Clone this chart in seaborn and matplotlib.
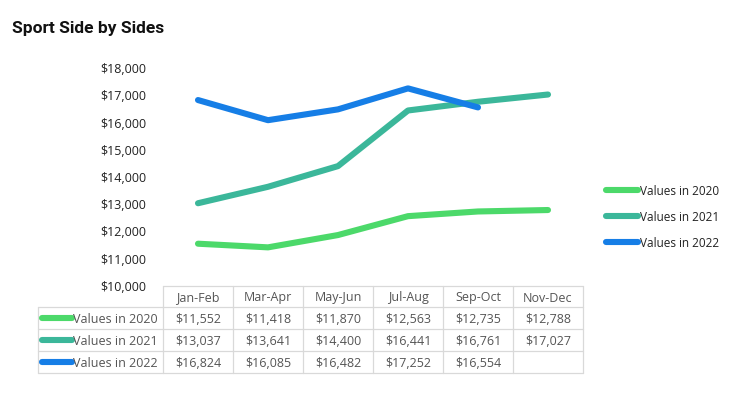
import matplotlib
matplotlib.use("Agg")
import matplotlib.pyplot as plt
import seaborn as sns
import pandas as pd
import numpy as np

categories = ["Jan-Feb", "Mar-Apr", "May-Jun", "Jul-Aug", "Sep-Oct", "Nov-Dec"]
series_names = ["Values in 2020", "Values in 2021", "Values in 2022"]
values_2020 = [11552, 11418, 11870, 12563, 12735, 12788]
values_2021 = [13037, 13641, 14400, 16441, 16761, 17027]
values_2022 = [16824, 16085, 16482, 17252, 16554, None]
colors = ["#4CD96A", "#3BB79A", "#167EE6"]
y_ticks = [10000, 11000, 12000, 13000, 14000, 15000, 16000, 17000, 18000]

sns.set_theme(style="white")
plt.rcParams["font.family"] = ["Open Sans", "DejaVu Sans"]

rows = []
for name, vals in zip(series_names, [values_2020, values_2021, values_2022]):
    for c, v in zip(categories, vals):
        rows.append({"Period": c, "Series": name, "Value": v})
df = pd.DataFrame(rows)
df["x"] = df["Period"].map({c: i for i, c in enumerate(categories)})

W, H = 752, 399
fig = plt.figure(figsize=(W / 100, H / 100), dpi=100)

# main axes
left, right, top, bottom = 163, 583, 68, 286
ax = fig.add_axes([left / W, 1 - bottom / H, (right - left) / W, (bottom - top) / H])
sns.lineplot(data=df.dropna(), x="x", y="Value", hue="Series", palette=colors,
             linewidth=4.4, ax=ax, legend=False, solid_capstyle="round",
             solid_joinstyle="round", sort=False)
ax.set_xlim(-0.5, len(categories) - 0.5)
ax.set_ylim(10000, 18000)
ax.set_yticks(y_ticks)
ax.set_yticklabels([f"${t:,.0f}" for t in y_ticks], fontsize=9, color="#222222")
ax.set_xticks([])
ax.set_xlabel("")
ax.set_ylabel("")
ax.tick_params(axis="y", length=0, pad=12)
for s in ax.spines.values():
    s.set_visible(False)

# legend on the right
legend_y = [190, 216, 242]
for name, col, ly in zip(series_names, colors, legend_y):
    fy = 1 - ly / H
    fig.add_artist(plt.Line2D([606 / W, 638 / W], [fy, fy], color=col, lw=4.4,
                              solid_capstyle="round", transform=fig.transFigure))
    fig.text(640 / W, fy, name, fontsize=8.5, color="#222222", va="center_baseline", ha="left")

# data table
col_w = (right - left) / len(categories)
tl, tr = 38, 583
ttop, tbot = 286, 373
tax = fig.add_axes([tl / W, 1 - tbot / H, (tr - tl) / W, (tbot - ttop) / H])
label_units = (left - tl) / col_w
tax.set_xlim(-0.5 - label_units, len(categories) - 0.5)
row_edges = [286, 307, 329, 351, 373]
tax.set_ylim(tbot, ttop)
tax.axis("off")
gc = "#d9d9d9"
for i, ry in enumerate(row_edges):
    x0 = -0.5 if i == 0 else -0.5 - label_units
    tax.plot([x0, len(categories) - 0.5], [ry, ry], color=gc, lw=0.9, clip_on=False)
tax.plot([-0.5 - label_units] * 2, [row_edges[1], row_edges[-1]], color=gc, lw=0.9, clip_on=False)
for k in range(len(categories) + 1):
    tax.plot([k - 0.5] * 2, [row_edges[0], row_edges[-1]], color=gc, lw=0.9, clip_on=False)
tc = "#555555"
for k, c in enumerate(categories):
    tax.text(k, (row_edges[0] + row_edges[1]) / 2, c, ha="center", va="center_baseline", fontsize=9, color=tc)
for r, (name, col, vals) in enumerate(zip(series_names, colors, [values_2020, values_2021, values_2022])):
    cy = (row_edges[r + 1] + row_edges[r + 2]) / 2
    lx0 = -0.5 - label_units + 4 / col_w
    lx1 = lx0 + 30 / col_w
    tax.plot([lx0, lx1], [cy, cy], color=col, lw=4.4, solid_capstyle="round", clip_on=False)
    tax.text(lx1 + 1 / col_w, cy, name, ha="left", va="center_baseline", fontsize=9, color=tc)
    for k, v in enumerate(vals):
        if v is not None:
            tax.text(k, cy, f"${v:,.0f}", ha="center", va="center_baseline", fontsize=9, color=tc)

fig.text(12 / W, 1 - 29 / H, "Sport Side by Sides", fontsize=12.5, fontweight="bold",
         family=["Roboto", "DejaVu Sans"], color="#111111", va="center", ha="left")

fig.savefig("out.png", dpi=100, facecolor="white")
